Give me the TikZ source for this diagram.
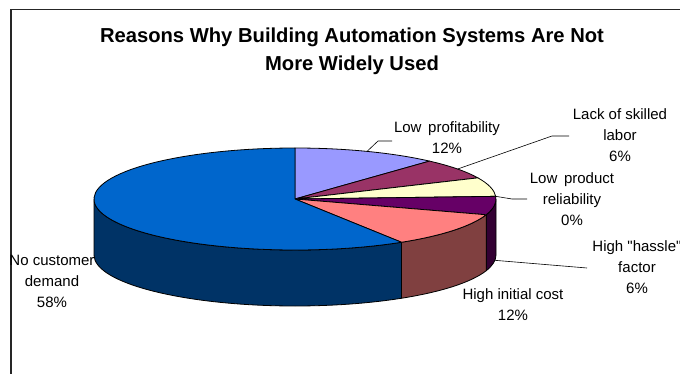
\documentclass[tikz,border=0pt]{standalone}
\usepackage{fontspec}
\setmainfont{Liberation Sans}[Ligatures=TeXOff]
\usetikzlibrary{calc}
\definecolor{lavtop}{HTML}{9999FF}
\definecolor{magtop}{HTML}{993366}
\definecolor{yeltop}{HTML}{FFFFCC}
\definecolor{purtop}{HTML}{660066}
\definecolor{purside}{HTML}{330033}
\definecolor{saltop}{HTML}{FF8080}
\definecolor{salside}{HTML}{804040}
\definecolor{blutop}{HTML}{0066CC}
\definecolor{bluside}{HTML}{003366}
\def\prx{201}
\def\pry{51}
\def\pdp{56}
\newcommand\pieside[3]{%
  \draw[slice, fill=#1] ($(C)+({\prx*cos(#2)},{\pry*sin(#2)})$)
    arc[start angle=#2, end angle=#3, x radius=\prx, y radius=\pry]
    -- ++(0,-\pdp)
    arc[start angle=#3, end angle=#2, x radius=\prx, y radius=\pry] -- cycle;}
\newcommand\pietop[3]{%
  \draw[slice, fill=#1] (C) -- ($(C)+({\prx*cos(#2)},{\pry*sin(#2)})$)
    arc[start angle=#2, end angle=#3, x radius=\prx, y radius=\pry] -- cycle;}
\begin{document}
\begin{tikzpicture}[x=1pt,y=1pt,
  lbl/.style={align=center, inner sep=0pt, font=\fontsize{15}{21}\selectfont},
  lead/.style={draw=black, line width=0.6pt},
  slice/.style={draw=black, line width=0.8pt, line join=round}]
\useasboundingbox (0,0) rectangle (680,-374);
\fill[white] (0,0) rectangle (680,-374);
\draw[line width=1.4pt, draw=black!85] (11,-374) -- (11,-9.5) -- (680,-9.5);

\coordinate (C) at (295,-199);

% side walls
\pieside{purside}{0}{-18}
\pieside{salside}{-18}{-58}
\pieside{bluside}{-58}{-180}

% top faces
\pietop{lavtop}{90}{48}
\pietop{magtop}{48}{24.5}
\pietop{yeltop}{24.5}{3}
\pietop{purtop}{3}{-18}
\pietop{saltop}{-18}{-58}
\pietop{blutop}{-58}{-270}

% title
\node[inner sep=0pt, align=center, font=\fontsize{20.2}{28}\selectfont\bfseries] (title) at (352,-51)
  {Reasons Why Building Automation Systems Are Not\\More Widely Used};

% labels
\node[lbl] (lprof) at (447,-138) {Low\, profitability\\12\%};
\node[lbl] (lskill) at (620,-135) {Lack of skilled\\labor\\6\%};
\node[lbl] (lrel) at (572,-199) {Low\, product\\reliability\\0\%};
\node[lbl] (lhassle) at (637,-267) {High "hassle"\\factor\\6\%};
\node[lbl] (lcost) at (513,-305) {High initial cost\\12\%};
\node[lbl] (ldemand) at (52,-281) {No customer\\demand\\58\%};

% leader lines
\coordinate (rprof) at ($(C)+({\prx*cos(69)},{\pry*sin(69)})$);
\coordinate (kprof) at (378,-141);
\coordinate (eprof) at (392,-141);
\draw[lead] (rprof) -- (kprof) -- (eprof);

\coordinate (rskill) at ($(C)+({\prx*cos(36)},{\pry*sin(36)})$);
\coordinate (kskill) at (552,-136);
\coordinate (eskill) at (569,-136);
\draw[lead] (rskill) -- (kskill) -- (eskill);

\coordinate (rrel) at ($(C)+({\prx*cos(3)},{\pry*sin(3)})$);
\coordinate (krel) at (512,-199);
\coordinate (erel) at (527,-199);
\draw[lead] (rrel) -- (krel) -- (erel);

\coordinate (rhassle) at ($(C)+({\prx*cos(-6)},{\pry*sin(-6)-\pdp})$);
\coordinate (ehassle) at (587,-268);
\draw[lead] (rhassle) -- (ehassle);
\end{tikzpicture}
\end{document}
